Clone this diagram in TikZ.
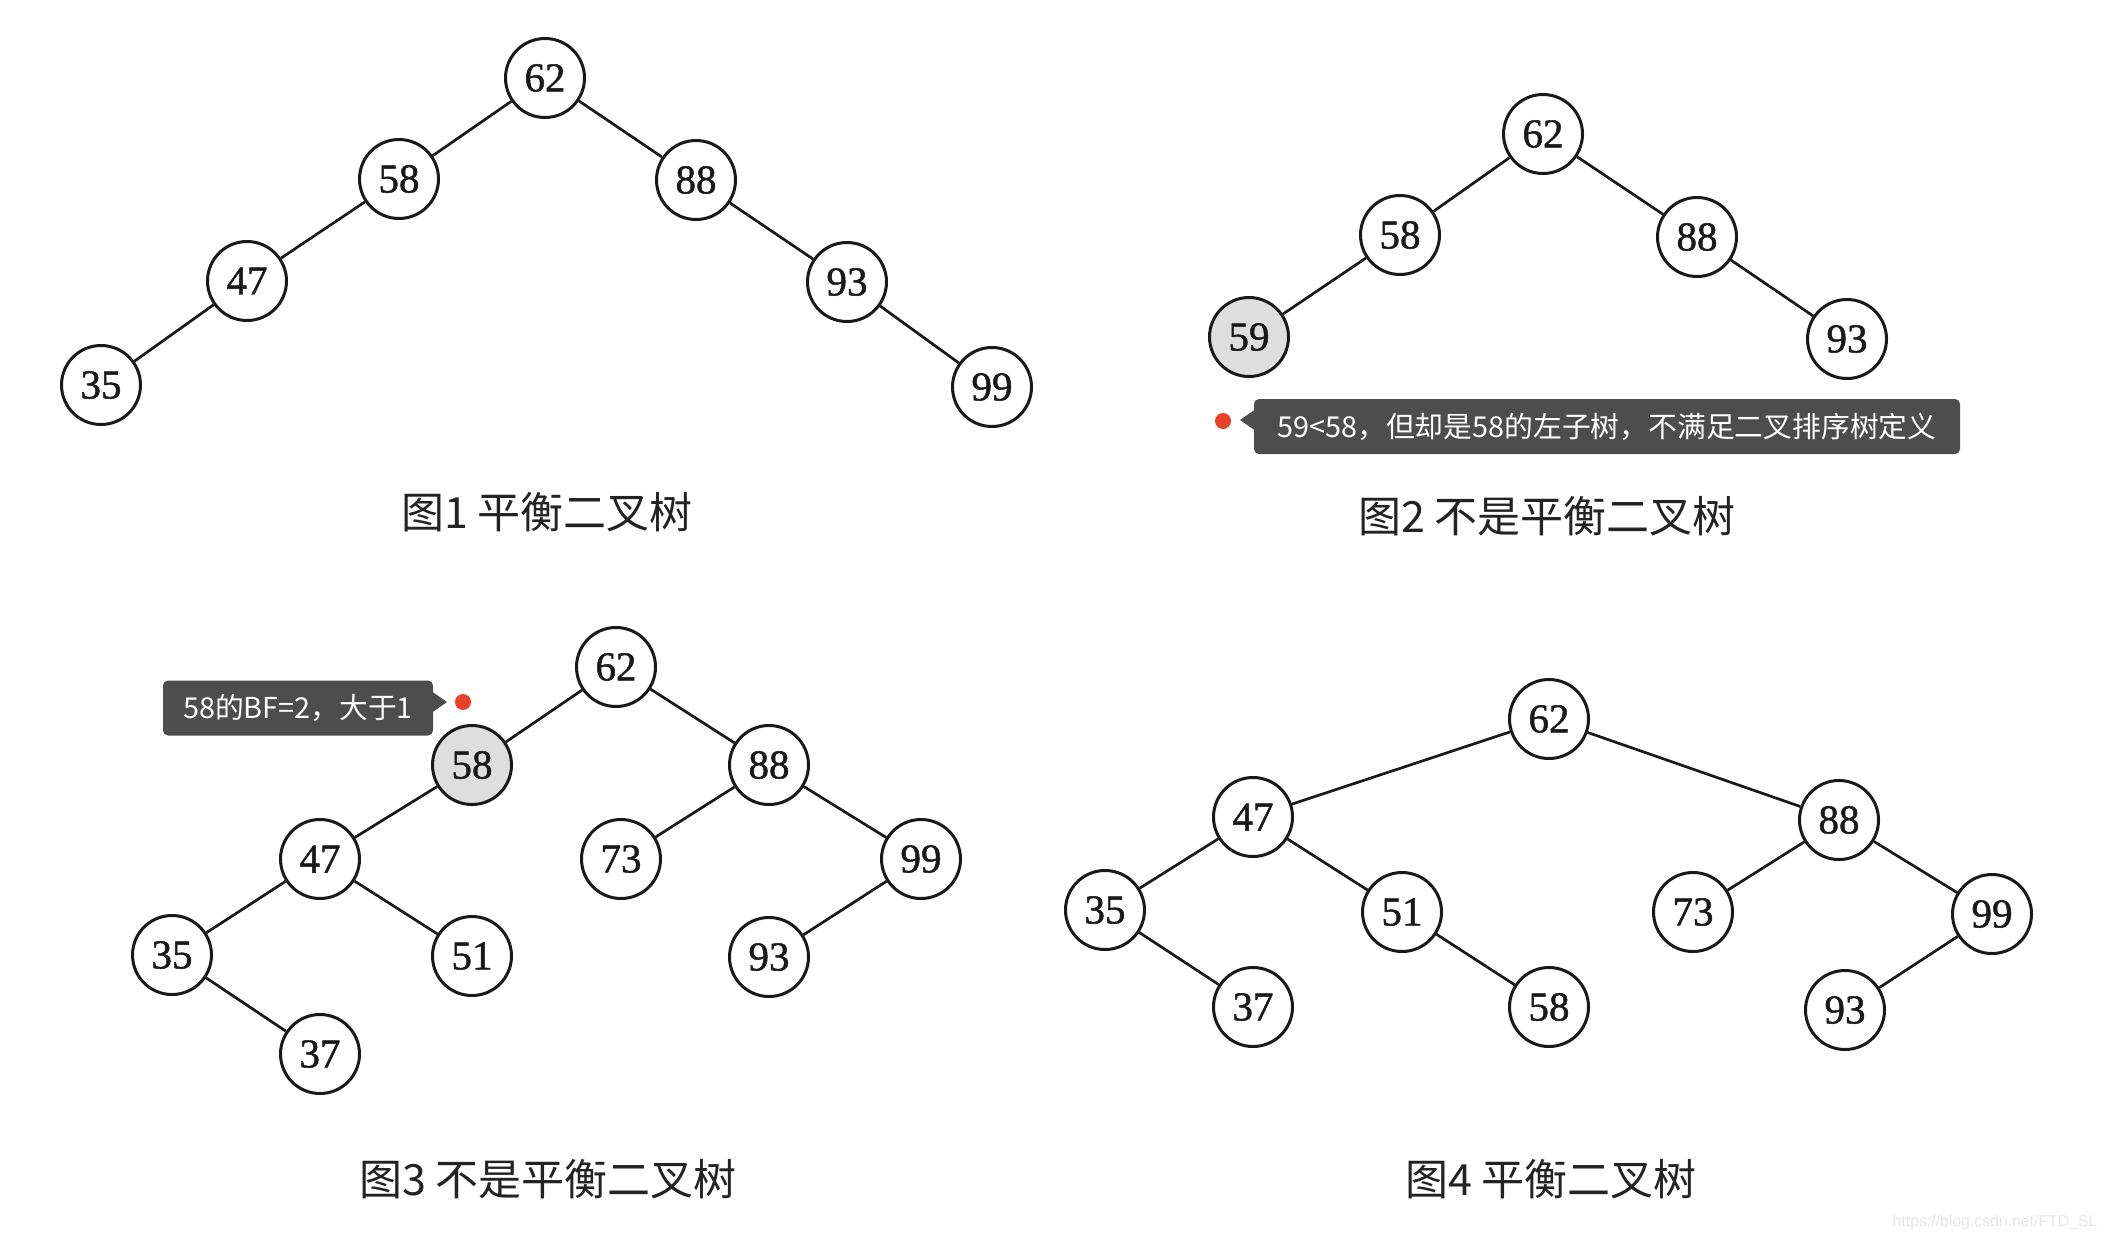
\documentclass[tikz,border=0pt]{standalone}
\usepackage{fontspec}
\setmainfont{Liberation Serif}
\newfontfamily\numfont[FakeBold=1.2]{Liberation Serif}
\newfontfamily\cjk{Noto Sans CJK SC}
\newfontfamily\wmfont{Liberation Sans}
\usetikzlibrary{calc}
\definecolor{tipbg}{RGB}{77,77,77}
\definecolor{dotred}{RGB}{233,66,43}
\definecolor{hl}{RGB}{222,222,222}
\definecolor{ink}{RGB}{25,25,25}
\definecolor{capink}{RGB}{35,35,35}
\definecolor{wm}{RGB}{230,230,230}
\tikzset{
  tn/.style={circle, draw=ink, line width=3pt, fill=white, minimum size=79pt, inner sep=0pt,
    font=\numfont\fontsize{41}{41}\selectfont, text=ink},
  hn/.style={tn, fill=hl},
  edge/.style={draw=ink, line width=2.7pt},
  captxt/.style={font=\cjk\fontsize{43}{43}\selectfont, text=capink, inner sep=0pt},
  tipbox/.style={fill=tipbg, rounded corners=5pt, text=white,
    font=\cjk\fontsize{28.8}{28.8}\selectfont, inner xsep=0pt, inner ysep=0pt, minimum height=55pt},
  rdot/.style={circle, fill=dotred, minimum size=16pt, inner sep=0pt},
}
\begin{document}
\begin{tikzpicture}[x=1pt, y=-1pt]
\useasboundingbox[fill=white] (0,0) rectangle (2108,1242);

% ---------- Figure 1 ----------
\node[tn] (a62) at (545,78) {62};
\node[tn] (a58) at (399,179) {58};
\node[tn] (a88) at (696,180) {88};
\node[tn] (a47) at (247,281) {47};
\node[tn] (a93) at (847,282) {93};
\node[tn] (a35) at (101,385) {35};
\node[tn] (a99) at (992,387) {99};
\draw[edge] (a62) -- (a58);
\draw[edge] (a62) -- (a88);
\draw[edge] (a58) -- (a47);
\draw[edge] (a47) -- (a35);
\draw[edge] (a88) -- (a93);
\draw[edge] (a93) -- (a99);
\node[captxt] (c1) at (547,512) {图1 平衡二叉树};

% ---------- Figure 2 ----------
\node[tn] (b62) at (1543,134) {62};
\node[tn] (b58) at (1400,235) {58};
\node[tn] (b88) at (1697,237) {88};
\node[hn] (b59) at (1249,337) {59};
\node[tn] (b93) at (1847,339) {93};
\draw[edge] (b62) -- (b58);
\draw[edge] (b62) -- (b88);
\draw[edge] (b58) -- (b59);
\draw[edge] (b88) -- (b93);
\node[captxt] (c2) at (1547,516) {图2 不是平衡二叉树};

\node[tipbox, minimum width=706pt] (t2) at (1607,426.5) {59<58，但却是58的左子树，不满足二叉排序树定义};
\coordinate (t2tip) at (1240,420);
\fill[tipbg] ($(t2.west|-t2tip)+(2,-11)$) -- (t2tip) -- ($(t2.west|-t2tip)+(2,11)$) -- cycle;
\node[rdot] (d2) at (1223,421) {};

% ---------- Figure 3 ----------
\node[tn] (e62) at (616,667) {62};
\node[hn] (e58) at (472,765) {58};
\node[tn] (e88) at (769,765) {88};
\node[tn] (e47) at (320,859) {47};
\node[tn] (e73) at (621,859) {73};
\node[tn] (e99) at (921,859) {99};
\node[tn] (e35) at (172,955) {35};
\node[tn] (e51) at (472,956) {51};
\node[tn] (e93) at (769,957) {93};
\node[tn] (e37) at (320,1054) {37};
\draw[edge] (e62) -- (e58);
\draw[edge] (e62) -- (e88);
\draw[edge] (e58) -- (e47);
\draw[edge] (e47) -- (e35);
\draw[edge] (e47) -- (e51);
\draw[edge] (e35) -- (e37);
\draw[edge] (e88) -- (e73);
\draw[edge] (e88) -- (e99);
\draw[edge] (e99) -- (e93);
\node[captxt] (c3) at (548,1179) {图3 不是平衡二叉树};

\node[tipbox, minimum width=270pt] (t3) at (298,708) {58的BF=2，大于1};
\coordinate (t3tip) at (447,702);
\fill[tipbg] ($(t3.east|-t3tip)+(-2,-11)$) -- (t3tip) -- ($(t3.east|-t3tip)+(-2,11)$) -- cycle;
\node[rdot] (d3) at (463,702) {};

% ---------- Figure 4 ----------
\node[tn] (f62) at (1549,719) {62};
\node[tn] (f47) at (1253,817) {47};
\node[tn] (f88) at (1839,820) {88};
\node[tn] (f35) at (1105,910) {35};
\node[tn] (f51) at (1402,912) {51};
\node[tn] (f73) at (1693,912) {73};
\node[tn] (f99) at (1992,914) {99};
\node[tn] (f37) at (1253,1007) {37};
\node[tn] (f58) at (1549,1007) {58};
\node[tn] (f93) at (1845,1010) {93};
\draw[edge] (f62) -- (f47);
\draw[edge] (f62) -- (f88);
\draw[edge] (f47) -- (f35);
\draw[edge] (f47) -- (f51);
\draw[edge] (f35) -- (f37);
\draw[edge] (f51) -- (f58);
\draw[edge] (f88) -- (f73);
\draw[edge] (f88) -- (f99);
\draw[edge] (f99) -- (f93);
\node[captxt] (c4) at (1551,1179) {图4 平衡二叉树};

% ---------- watermark ----------
\node[font=\wmfont\fontsize{15.8}{15.8}\selectfont, text=wm, inner sep=0pt] (wmk) at (1995,1222) {https://blog.csdn.net/FTD\_SL};
\end{tikzpicture}
\end{document}
